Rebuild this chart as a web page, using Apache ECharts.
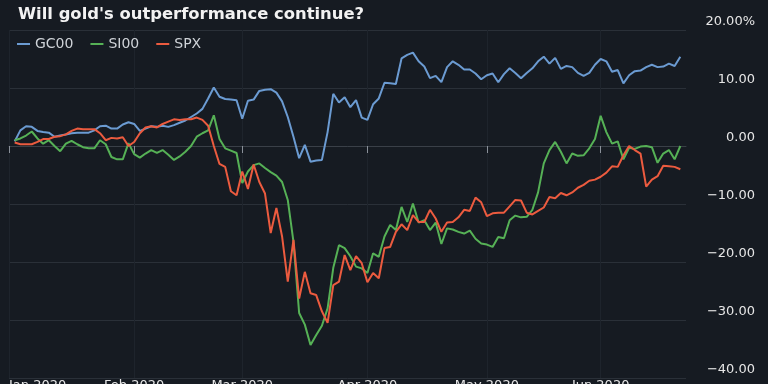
<!DOCTYPE html>
<html>
<head>
<meta charset="utf-8">
<script src="https://cdn.jsdelivr.net/npm/echarts@6/dist/echarts.min.js"></script>
<style>
html,body{margin:0;padding:0;background:#161b22;}
#chart{width:768px;height:384px;}
</style>
</head>
<body>
<div id="chart"></div>
<script>
const titleText = "Will gold's outperformance continue?";
const seriesNames = ['GC00', 'SI00', 'SPX'];
const monthNames = ['Jan','Feb','Mar','Apr','May','Jun'];
const yTicks = [-40, -30, -20, -10, 0, 10, 20];

const dates = [
'2020-01-01','2020-01-02','2020-01-03','2020-01-06','2020-01-07','2020-01-08','2020-01-09','2020-01-10','2020-01-13','2020-01-14','2020-01-15','2020-01-16','2020-01-17','2020-01-21','2020-01-22','2020-01-23','2020-01-24','2020-01-27','2020-01-28','2020-01-29','2020-01-30','2020-01-31',
'2020-02-03','2020-02-04','2020-02-05','2020-02-06','2020-02-07','2020-02-10','2020-02-11','2020-02-12','2020-02-13','2020-02-14','2020-02-18','2020-02-19','2020-02-20','2020-02-21','2020-02-24','2020-02-25','2020-02-26','2020-02-27','2020-02-28',
'2020-03-02','2020-03-03','2020-03-04','2020-03-05','2020-03-06','2020-03-09','2020-03-10','2020-03-11','2020-03-12','2020-03-13','2020-03-16','2020-03-17','2020-03-18','2020-03-19','2020-03-20','2020-03-23','2020-03-24','2020-03-25','2020-03-26','2020-03-27','2020-03-30','2020-03-31',
'2020-04-01','2020-04-02','2020-04-03','2020-04-06','2020-04-07','2020-04-08','2020-04-09','2020-04-13','2020-04-14','2020-04-15','2020-04-16','2020-04-17','2020-04-20','2020-04-21','2020-04-22','2020-04-23','2020-04-24','2020-04-27','2020-04-28','2020-04-29','2020-04-30',
'2020-05-01','2020-05-04','2020-05-05','2020-05-06','2020-05-07','2020-05-08','2020-05-11','2020-05-12','2020-05-13','2020-05-14','2020-05-15','2020-05-18','2020-05-19','2020-05-20','2020-05-21','2020-05-22','2020-05-26','2020-05-27','2020-05-28','2020-05-29',
'2020-06-01','2020-06-02','2020-06-03','2020-06-04','2020-06-05','2020-06-08','2020-06-09','2020-06-10','2020-06-11','2020-06-12','2020-06-15','2020-06-16','2020-06-17','2020-06-18','2020-06-19','2020-06-22'
];

// % change, one value per trading day Jan 2 .. Jun 19
const gc00 = [
0.8, 2.7, 3.4, 3.3, 2.6, 2.4, 2.3, 1.6, 1.8, 2.0, 2.2, 2.3, 2.3, 2.3, 2.7, 3.4, 3.5, 3.0, 3.0, 3.7, 4.1,
3.8, 2.6, 3.0, 3.4, 3.3, 3.5, 3.3, 3.6, 4.0, 4.4, 5.0, 5.6, 6.4, 8.2, 10.1, 8.5, 8.1, 8.0, 7.9,
4.7, 7.8, 8.0, 9.5, 9.7, 9.8, 9.2, 7.7, 5.0, 1.6, -2.1, 0.2, -2.7, -2.5, -2.4, 2.4, 9.0, 7.5, 8.4, 6.7, 7.9, 4.9,
4.5, 7.2, 8.2, 10.9, 10.8, 10.7, 15.1, 15.7, 16.1, 14.6, 13.7, 11.7, 12.1, 11.0, 13.6, 14.6, 14.0, 13.2, 13.2, 12.5, 11.5,
12.2, 12.5, 11.0, 12.4, 13.4, 12.6, 11.7, 12.6, 13.4, 14.6, 15.4, 14.2, 15.2, 13.3, 13.8, 13.6, 12.6, 12.1, 12.6, 14.0,
15.0, 14.6, 12.8, 13.1, 10.8, 12.2, 12.9, 13.0, 13.6, 14.0, 13.6, 13.7, 14.2, 13.8, 15.4
];
const si00 = [
1.0, 1.3, 1.8, 2.5, 1.3, 0.4, 1.0, 0.0, -0.9, 0.4, 0.9, 0.3, -0.2, -0.4, -0.4, 1.0, 0.3, -1.9, -2.3, -2.3, 0.5,
-1.4, -2.0, -1.3, -0.7, -1.2, -0.7, -1.5, -2.4, -1.8, -1.0, 0.0, 1.6, 2.2, 2.7, 5.3, 1.2, -0.4, -0.8, -1.2,
-6.4, -4.4, -3.3, -3.0, -3.8, -4.5, -5.1, -6.2, -9.3, -16.5, -28.8, -30.8, -34.3, -32.6, -31.0, -28.0, -21.0, -17.1, -17.6, -19.0, -20.8, -21.1,
-21.9, -18.5, -19.1, -15.6, -13.6, -14.5, -10.5, -13.1, -9.9, -13.2, -12.8, -14.5, -13.2, -16.9, -14.2, -14.4, -14.8, -15.1, -14.6, -16.0, -16.8,
-17.0, -17.4, -15.7, -15.9, -12.8, -12.0, -12.3, -12.2, -11.0, -8.0, -3.0, -0.7, 0.7, -1.0, -3.0, -1.3, -1.7, -1.6, -0.4, 1.2,
5.2, 2.4, 0.4, 0.8, -2.3, -0.3, -0.5, -0.1, 0.0, -0.2, -2.9, -1.3, -0.7, -2.3, 0.0
];
const spx = [
0.6, 0.3, 0.3, 0.3, 0.7, 1.2, 1.2, 1.6, 1.7, 2.0, 2.6, 3.0, 2.9, 2.9, 2.9, 2.2, 1.0, 1.4, 1.3, 1.5, 0.0,
0.7, 2.2, 3.2, 3.4, 3.2, 3.8, 4.2, 4.6, 4.5, 4.6, 4.6, 4.9, 4.5, 3.5, 0.0, -3.1, -3.6, -7.8, -8.5,
-4.4, -7.4, -3.2, -6.2, -8.2, -15.0, -10.7, -15.6, -23.4, -16.2, -26.3, -21.7, -25.4, -25.7, -28.5, -30.5, -24.0, -23.4, -18.8, -21.4, -19.0, -20.2,
-23.5, -21.9, -22.8, -17.6, -17.4, -14.8, -13.5, -14.5, -11.9, -13.1, -13.1, -11.0, -12.5, -14.8, -13.2, -13.1, -12.3, -11.0, -11.2, -8.9, -9.7,
-12.1, -11.6, -11.5, -11.5, -10.4, -9.3, -9.4, -11.5, -11.8, -11.2, -10.6, -8.8, -9.0, -8.1, -8.5, -8.0, -7.2, -6.7, -6.0, -5.8,
-5.3, -4.6, -3.5, -3.6, -1.6, 0.0, -0.7, -1.3, -7.0, -5.8, -5.2, -3.4, -3.5, -3.6, -4.0
];

const colors = ['#6b9bd2', '#56b156', '#ec5b3f'];
const pad = arr => [null].concat(arr, [null]);
const isMonthStart = idx => idx === 0 || dates[idx].slice(0, 7) !== dates[idx - 1].slice(0, 7);
const fmtY = v => {
  const s = Math.abs(v).toFixed(2);
  if (v === yTicks[yTicks.length - 1]) return s + '%';
  return (v < 0 ? '\u2212' : '') + s;
};

const chart = echarts.init(document.getElementById('chart'), null, {renderer: 'canvas'});
chart.setOption({
  backgroundColor: '#161b22',
  animation: false,
  title: {
    text: titleText, left: 13, top: 2,
    textStyle: {color: '#f2f2f2', fontSize: 16.4, fontWeight: 'bold', fontFamily: 'DejaVu Sans'}
  },
  legend: {
    data: seriesNames, left: 17, top: 37, padding: 0, itemGap: 17,
    icon: 'rect', itemWidth: 13, itemHeight: 2,
    textStyle: {color: '#cfd3d8', fontSize: 14, fontFamily: 'DejaVu Sans'}
  },
  grid: {left: 9, right: 82, top: 30, bottom: 6, containLabel: false, outerBoundsMode: 'none'},
  xAxis: {
    type: 'category', data: dates, boundaryGap: false,
    axisLine: {show: true, lineStyle: {color: '#3a4048'}},
    axisTick: {show: true, length: 7, interval: isMonthStart, lineStyle: {color: '#8a9099'}},
    splitLine: {show: true, interval: isMonthStart, lineStyle: {color: '#1e242c'}},
    axisLabel: {
      interval: isMonthStart, margin: 1, color: '#e6e6e6', fontSize: 13, fontFamily: 'DejaVu Sans',
      alignMinLabel: 'left', hideOverlap: false,
      formatter: v => monthNames[parseInt(v.slice(5, 7), 10) - 1] + ' ' + v.slice(0, 4)
    }
  },
  yAxis: {
    type: 'value', position: 'right', min: yTicks[0], max: yTicks[yTicks.length - 1], interval: 10,
    axisLine: {show: false}, axisTick: {show: false},
    splitLine: {lineStyle: {color: '#2a3038'}},
    axisLabel: {
      margin: 69, align: 'right', verticalAlign: 'bottom', padding: [0, 0, 2, 0],
      color: '#e6e6e6', fontSize: 13, fontFamily: 'DejaVu Sans', formatter: fmtY
    }
  },
  series: [gc00, si00, spx].map((d, i) => ({
    name: seriesNames[i], type: 'line', data: pad(d), showSymbol: false, smooth: false,
    connectNulls: false, color: colors[i],
    lineStyle: {width: 2, color: colors[i]}
  }))
});
</script>
</body>
</html>
